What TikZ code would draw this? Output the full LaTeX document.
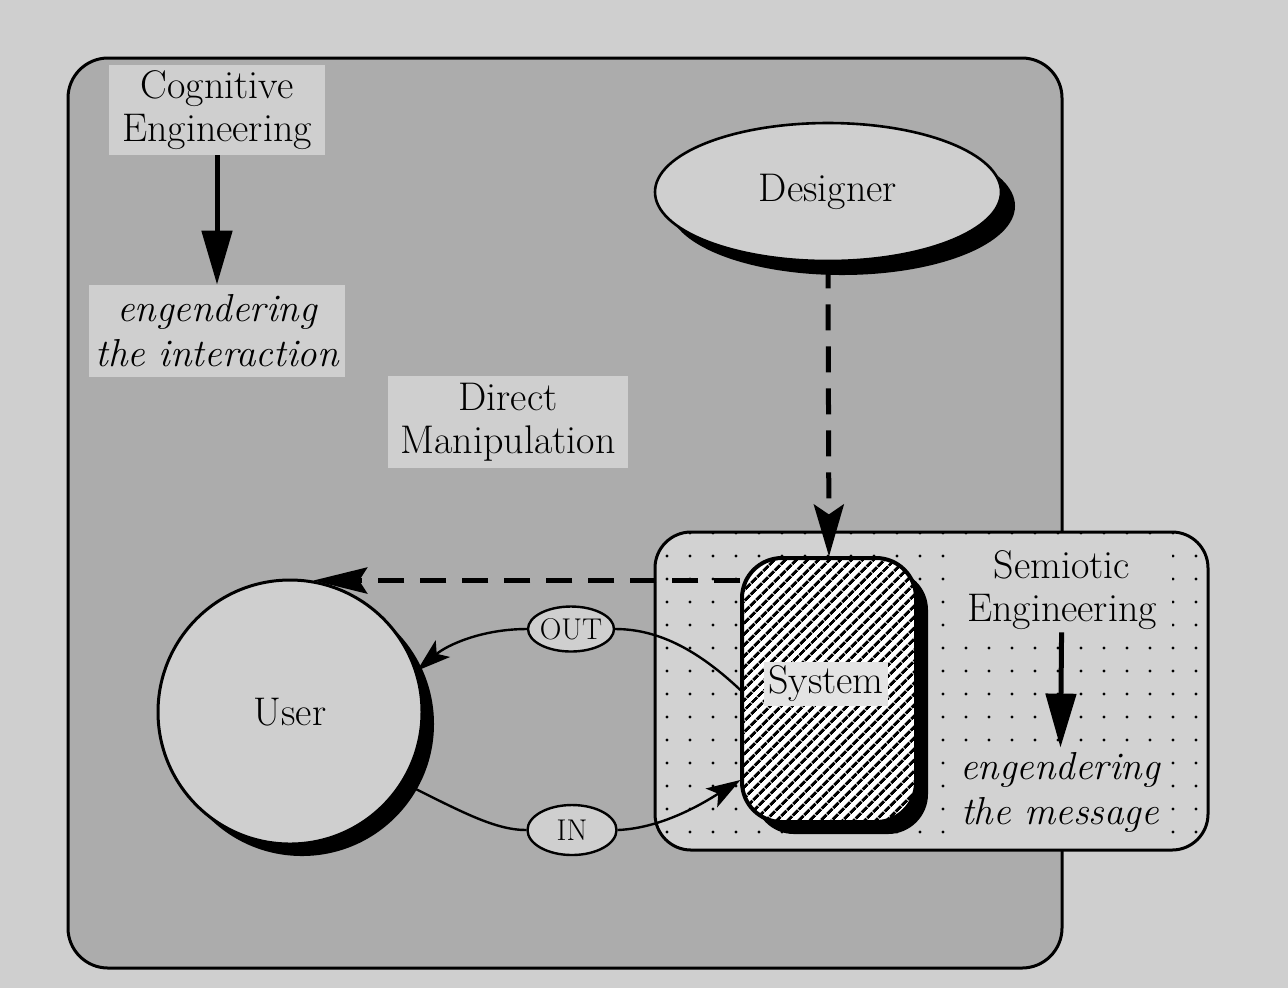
\documentclass[tikz,border=0pt]{standalone}
\usetikzlibrary{shapes.geometric,arrows.meta,patterns.meta,shadows}
\definecolor{paper}{HTML}{CFCFCF}
\definecolor{screen}{HTML}{ACACAC}
\definecolor{panel}{HTML}{D2D2D2}
\definecolor{tag}{HTML}{E3E3E3}
\tikzset{
  txt/.style={font=\fontsize{20}{21.5}\selectfont, align=center},
  itxt/.style={font=\fontsize{19.5}{22.5}\selectfont\itshape, align=center},
  labelbox/.style={fill=paper, inner sep=0pt},
  frame/.style={fill=screen, draw=black, line width=1.5pt, rounded corners=20pt},
  semipanel/.style={draw=black, line width=1.5pt, rounded corners=18pt,
    preaction={fill=panel}, pattern={Dots[radius=0.8pt,distance=11.5pt]}, pattern color=black},
  blackshadow/.style={drop shadow={shadow xshift=#1, shadow yshift=-#1, fill=black, opacity=1}},
  boldarrow/.style={line width=2.5pt, -{Triangle[length=27pt,width=15pt]}},
  dashline/.style={line width=2.5pt, dash pattern=on 13pt off 8pt},
  conn/.style={line width=1.2pt},
  conntip/.style={-{Stealth[length=17pt,width=11pt,inset=4pt]}},
  token/.style={ellipse, draw=black, line width=1.2pt, fill=paper, inner xsep=-1pt, inner ysep=0pt,
    font=\fontsize{15}{15}\selectfont}
}
\begin{document}
\begin{tikzpicture}[x=0.5pt,y=-0.5pt]
\useasboundingbox (0,0) rectangle (1288,993);
% page
\fill[paper] (0,0) rectangle (1288,993);
\fill[white] (0,988) rectangle (1288,993);
% cognitive engineering frame
\draw[frame] (68,58) rectangle (1062,968);

\node[labelbox, txt, minimum width=108pt, minimum height=45pt] (cog) at (217,110) {Cognitive\\Engineering};
\node[labelbox, itxt, minimum width=128pt, minimum height=46pt] (engI) at (217,331) {engendering\\the interaction};
\node[labelbox, txt, minimum width=120pt, minimum height=46pt] (dm) at (508,422) {Direct\\Manipulation};
\draw[boldarrow] (cog) -- (engI);

% designer and user
\node[ellipse, draw=black, line width=1.3pt, fill=paper, minimum width=173pt, minimum height=69pt,
  txt, blackshadow=7pt] (des) at (828,192) {Designer};
\node[circle, draw=black, line width=1.5pt, fill=paper, minimum size=132pt, txt, blackshadow=6pt]
  (user) at (290,712) {User};

% semiotic engineering panel
\draw[semipanel] (655,532) rectangle (1208,850);
\node[labelbox, fill=panel, txt, minimum width=110pt, minimum height=42pt] (sem) at (1062,590) {Semiotic\\Engineering};
\node[labelbox, fill=panel, itxt, minimum width=102pt, minimum height=44pt] (engM) at (1060,792) {engendering\\the message};
\draw[boldarrow] (sem) -- (engM);

% system
\node[rectangle, rounded corners=20pt, draw=black, line width=2pt, minimum width=87pt, minimum height=132pt,
  blackshadow=6pt, preaction={fill=white},
  pattern={Lines[angle=45,distance=4pt,line width=1.6pt]}, pattern color=black] (sys) at (829,690) {};
\node[fill=tag, inner sep=2pt, txt] (syslbl) at (826,684) {System};

% message tokens
\node[token, minimum width=43pt, minimum height=22.5pt] (out) at (571,629) {OUT};
\node[token, minimum width=44.5pt, minimum height=25pt] (in) at (572,830) {IN};

% designer's message reaching the system, and the system answering the user
\draw[dashline, -{Stealth[length=26pt,width=15pt,inset=5pt]}] (des.south) -- (sys.north);
\draw[dashline, -{Stealth[length=27pt,width=13pt,inset=4pt]}] (user.80 -| sys.west) -- (user.80);

% interaction loop
\draw[conn] (sys.west) .. controls (700,652) and (660,629) .. (out.east);
\draw[conn, conntip] (out.west) .. controls (482,629) and (447,645) .. (user.18);
\draw[conn] (user.-32) .. controls (462,812) and (495,830) .. (in.west);
\draw[conn, conntip] (in.east) .. controls (665,828) and (708,800) .. ([yshift=-45pt]sys.west);
\end{tikzpicture}
\end{document}
